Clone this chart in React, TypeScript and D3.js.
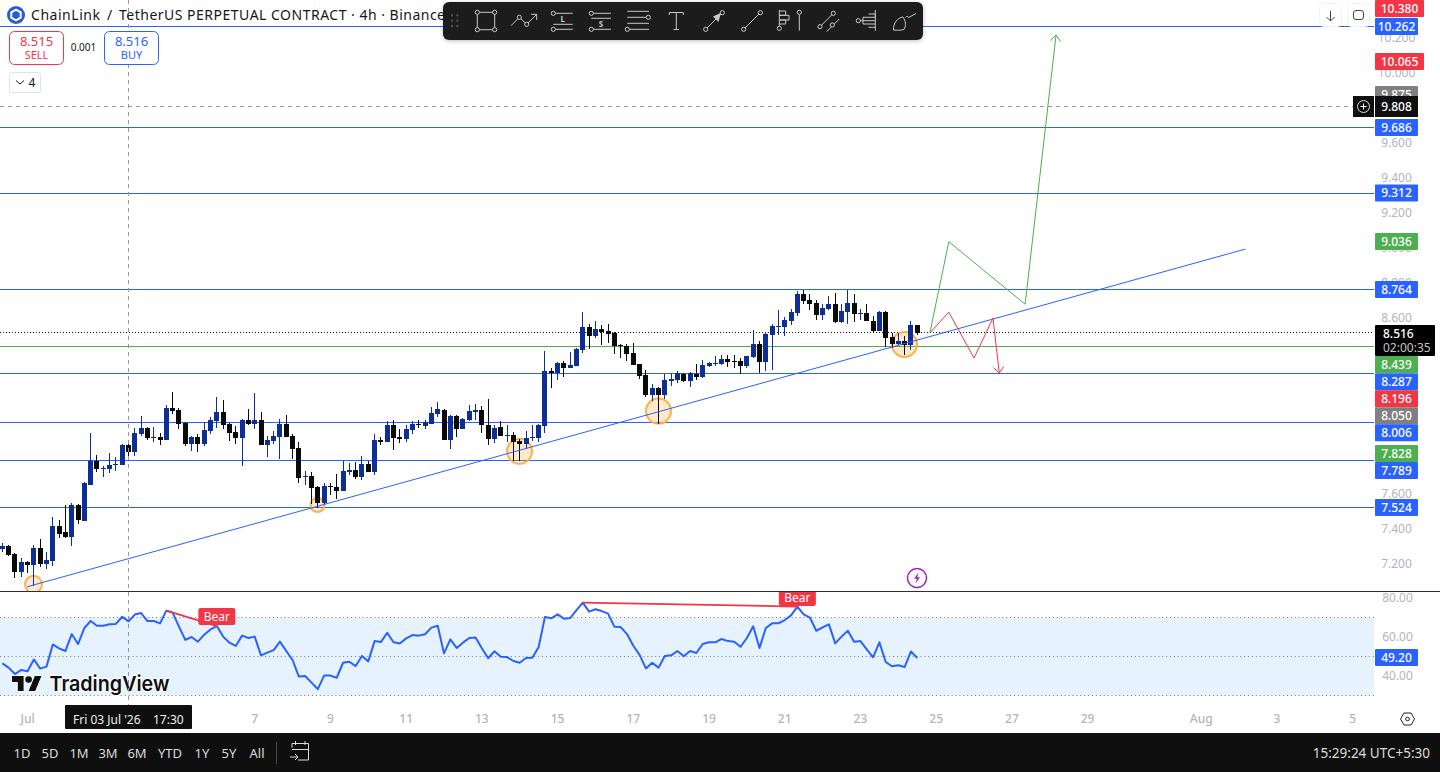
import { useEffect, useRef } from "react";
import * as d3 from "d3";

// 4h candles, oldest first
const opens = [
  7.287, 7.302, 7.256, 7.154, 7.211, 7.193, 7.29, 7.199, 7.216, 7.416, 7.382, 7.353, 7.536, 7.444, 7.65, 7.786, 7.741, 7.741, 7.764, 7.764,
  7.878, 7.838, 7.94, 7.974, 7.917, 7.923, 7.906, 8.088, 8.077, 8.003, 7.883, 7.923, 7.883, 7.957, 8.014, 8.066, 7.997, 7.952, 7.917, 8.02,
  7.997, 8.02, 7.878, 7.9, 7.923, 7.997, 7.929, 7.86, 7.695, 7.701, 7.638, 7.547, 7.644, 7.638, 7.615, 7.724, 7.735, 7.695, 7.769, 7.724,
  7.906, 7.895, 7.992, 7.923, 7.912, 7.963, 7.997, 7.986, 7.997, 8.054, 8.077, 7.906, 8.043, 7.969, 8.02, 8.066, 8.077, 7.992, 7.912, 7.98,
  7.929, 7.934, 7.9, 7.883, 7.917, 7.917, 7.986, 8.299, 8.288, 8.345, 8.316, 8.328, 8.419, 8.55, 8.499, 8.539, 8.527, 8.516, 8.447, 8.442,
  8.402, 8.339, 8.276, 8.163, 8.202, 8.163, 8.242, 8.248, 8.282, 8.242, 8.282, 8.265, 8.328, 8.339, 8.339, 8.368, 8.356, 8.356, 8.328, 8.379,
  8.453, 8.351, 8.504, 8.55, 8.55, 8.584, 8.63, 8.738, 8.704, 8.687, 8.619, 8.653, 8.681, 8.579, 8.636, 8.687, 8.624, 8.63, 8.584, 8.527,
  8.636, 8.493, 8.453, 8.47, 8.447, 8.562,
];
const highs = [
  7.317, 7.307, 7.262, 7.233, 7.216, 7.307, 7.342, 7.268, 7.467, 7.45, 7.536, 7.547, 7.541, 7.667, 7.946, 7.82, 7.758, 7.832, 7.809, 7.883,
  7.883, 7.974, 8.043, 7.98, 7.98, 7.946, 8.106, 8.18, 8.088, 8.009, 7.929, 7.94, 8.009, 8.037, 8.151, 8.134, 8.003, 7.986, 8.026, 8.083,
  8.174, 8.066, 7.929, 7.957, 8.026, 8.048, 7.94, 7.895, 7.729, 7.724, 7.644, 7.661, 7.661, 7.712, 7.786, 7.775, 7.781, 7.815, 7.786, 7.94,
  7.923, 8.014, 8.02, 7.969, 7.992, 8.014, 8.02, 8.02, 8.094, 8.123, 8.083, 8.048, 8.048, 8.031, 8.106, 8.111, 8.1, 8.14, 7.992, 8.014,
  7.992, 7.952, 7.912, 7.957, 7.992, 7.997, 8.413, 8.316, 8.351, 8.356, 8.408, 8.43, 8.636, 8.567, 8.584, 8.562, 8.567, 8.522, 8.453, 8.453,
  8.459, 8.339, 8.305, 8.225, 8.208, 8.282, 8.288, 8.299, 8.288, 8.294, 8.339, 8.362, 8.351, 8.385, 8.39, 8.39, 8.39, 8.373, 8.385, 8.533,
  8.47, 8.522, 8.567, 8.647, 8.607, 8.653, 8.755, 8.761, 8.738, 8.704, 8.681, 8.727, 8.744, 8.681, 8.761, 8.738, 8.653, 8.681, 8.613, 8.641,
  8.641, 8.516, 8.516, 8.499, 8.584, 8.562,
];
const lows = [
  7.27, 7.247, 7.119, 7.127, 7.148, 7.074, 7.182, 7.171, 7.188, 7.347, 7.347, 7.302, 7.427, 7.444, 7.648, 7.724, 7.695, 7.718, 7.729, 7.764,
  7.809, 7.815, 7.929, 7.906, 7.895, 7.878, 7.906, 8.054, 7.969, 7.872, 7.843, 7.838, 7.872, 7.94, 7.974, 7.969, 7.9, 7.883, 7.758, 7.992,
  7.969, 7.878, 7.809, 7.883, 7.798, 7.923, 7.798, 7.661, 7.65, 7.541, 7.518, 7.541, 7.592, 7.57, 7.615, 7.706, 7.684, 7.678, 7.724, 7.706,
  7.878, 7.895, 7.849, 7.889, 7.895, 7.94, 7.974, 7.969, 7.997, 8.037, 7.906, 7.855, 7.923, 7.969, 8.014, 8.02, 7.946, 7.878, 7.889, 7.929,
  7.895, 7.786, 7.786, 7.855, 7.9, 7.895, 7.946, 8.202, 8.248, 8.265, 8.316, 8.328, 8.402, 8.425, 8.487, 8.448, 8.459, 8.396, 8.373, 8.356,
  8.333, 8.254, 8.151, 8.128, 7.997, 8.14, 8.214, 8.231, 8.237, 8.208, 8.248, 8.259, 8.322, 8.328, 8.333, 8.322, 8.316, 8.282, 8.316, 8.373,
  8.288, 8.299, 8.305, 8.504, 8.499, 8.562, 8.613, 8.681, 8.647, 8.59, 8.59, 8.647, 8.573, 8.573, 8.567, 8.579, 8.59, 8.584, 8.522, 8.527,
  8.436, 8.43, 8.447, 8.39, 8.419, 8.505,
];
const closes = [
  7.302, 7.252, 7.155, 7.211, 7.193, 7.29, 7.199, 7.222, 7.416, 7.37, 7.353, 7.536, 7.45, 7.661, 7.786, 7.741, 7.746, 7.764, 7.769, 7.878,
  7.838, 7.946, 7.974, 7.917, 7.923, 7.906, 8.088, 8.071, 7.997, 7.883, 7.923, 7.883, 7.963, 8.02, 8.066, 7.992, 7.946, 7.917, 8.02, 7.997,
  8.02, 7.878, 7.906, 7.929, 7.997, 7.923, 7.855, 7.689, 7.701, 7.632, 7.547, 7.644, 7.638, 7.615, 7.729, 7.735, 7.695, 7.769, 7.724, 7.906,
  7.895, 7.992, 7.917, 7.912, 7.969, 7.997, 7.992, 8.009, 8.06, 8.083, 7.906, 8.043, 7.969, 8.026, 8.071, 8.077, 7.992, 7.912, 7.974, 7.929,
  7.934, 7.895, 7.883, 7.917, 7.923, 7.992, 8.299, 8.288, 8.345, 8.316, 8.333, 8.425, 8.55, 8.499, 8.539, 8.522, 8.51, 8.442, 8.442, 8.396,
  8.333, 8.271, 8.163, 8.202, 8.163, 8.248, 8.254, 8.288, 8.242, 8.288, 8.265, 8.333, 8.345, 8.345, 8.368, 8.351, 8.351, 8.328, 8.385, 8.453,
  8.351, 8.51, 8.556, 8.556, 8.59, 8.636, 8.738, 8.698, 8.681, 8.619, 8.658, 8.681, 8.579, 8.641, 8.687, 8.624, 8.63, 8.584, 8.527, 8.636,
  8.487, 8.453, 8.47, 8.447, 8.562, 8.516,
];
const rsiValues = [
  46.5, 44.3, 41, 43.1, 42.4, 48.5, 43.8, 44.8, 56.2, 54.2, 52.8, 61.5, 56.4, 64.6, 68.2, 65.8, 65.8, 66.5, 66.7, 70.4,
  68, 71.5, 72.3, 68.2, 68.2, 67, 73.5, 72.5, 65.3, 58.5, 60, 57.6, 61.2, 63.9, 65.6, 60.2, 57.1, 55.4, 60.7, 59.5,
  60.2, 50.6, 52, 53.3, 57.6, 52.8, 48.2, 39.7, 40, 36.6, 33.3, 40.2, 40.2, 39.1, 46.8, 47.3, 45.1, 50.3, 47.5, 57.9,
  57.4, 62.2, 57.3, 56.7, 59.3, 61, 60.7, 61.4, 64.8, 65.8, 51.6, 58.8, 54.4, 57.1, 59.5, 59.7, 54.2, 49.1, 52.7, 49.9,
  49.7, 47.7, 46.8, 49.2, 49.4, 54.9, 70.3, 69.6, 71.6, 69.4, 69.7, 73.8, 77.6, 73, 74.2, 73.3, 72, 65.3, 65.1, 61.5,
  55.5, 50.8, 43.9, 46.8, 44.3, 50.3, 50.6, 52.8, 50.1, 52.8, 51.8, 56.4, 57.3, 57.3, 59, 57.9, 57.6, 55, 59.5, 65.5,
  54.4, 64.6, 67, 67, 68.7, 71.1, 75.6, 71.6, 69.9, 63.2, 64.9, 66.5, 56.7, 60.2, 63.2, 57.6, 57.9, 53.7, 49.6, 57.3,
  47.2, 45, 45.5, 44.6, 52.6, 49.2,
];

const blueLevels = [10.262, 9.686, 9.312, 8.764, 8.287, 8.006, 7.789, 7.524];
const greenLevel = 8.439;
const lastPrice = 8.516;
const crosshairPrice = 9.808;
const crosshairIndex = 20;

const priceTicks = [10.2, 10, 9.8, 9.6, 9.4, 9.2, 9, 8.8, 8.6, 8.4, 8.2, 8, 7.8, 7.6, 7.4, 7.2];
const rsiTicks = [80, 60, 40];
const rsiBands = [70, 50, 30];

const dayLabels = ["Jul", "7", "9", "11", "13", "15", "17", "19", "21", "23", "25", "27", "29", "Aug", "3", "5"];
const dayOffsets = [0, 6, 8, 10, 12, 14, 16, 18, 20, 22, 24, 26, 28, 31, 33, 35]; // days after 1 Jul
const rangeButtons = ["1D", "5D", "1M", "3M", "6M", "YTD", "1Y", "5Y", "All"];

// price tags on the axis
const tagValues = [10.38, 10.262, 10.065, 9.875, 9.686, 9.312, 9.036, 8.764, 8.439, 8.287, 8.196, 8.05, 8.006, 7.828, 7.789, 7.524];
const tagKinds = ["r", "b", "r", "k", "b", "b", "g", "b", "g", "b", "r", "k", "b", "g", "b", "b"];

// drawn forecast paths: candle index / price
const trendIdx = [3.9, 197];
const trendPrice = [7.07, 8.994];
const greenPathIdx = [147, 150, 162.1, 167];
const greenPathPrice = [8.516, 9.036, 8.68, 10.214];
const redPathIdx = [147, 150, 154, 157, 158];
const redPathPrice = [8.516, 8.635, 8.373, 8.601, 8.288];

const touchIdx = [5, 50, 82, 104, 143];
const touchPrice = [7.084, 7.536, 7.842, 8.071, 8.451];

const divergenceIdx = [[26, 34], [92, 126]];
const divergenceRsi = [[73.5, 65.6], [77.6, 75.6]];

const WIDTH = 1440;
const HEIGHT = 772;
const PLOT_R = 1374;
const PANE_Y = 591;
const AXIS_Y = 704;
const FOOT_Y = 733;
const FONT = "'Noto Sans', sans-serif";
const BLUE = "#2962ff";
const GREEN = "#4caf50";
const RED = "#f23645";
const CANDLE_UP = "#0d2f95";
const CANDLE_DOWN = "#0a0a0a";
const BAND_FILL = "#e6f3fe";
const TAG_FILL: Record<string, string> = { r: RED, b: BLUE, g: GREEN, k: "#808080" };
const TAG_CENTERS = [8.5, 26.5, 61.5, 94.5, 127.5, 193, 241.5, 289.5, 364.5, 381.7, 398.7, 415.7, 432.7, 453.5, 470.5, 507.5];
const TOUCH_RADII = [8.5, 7, 12.5, 12.5, 12.5];

export default function App() {
  const svgRef = useRef<SVGSVGElement | null>(null);

  useEffect(() => {
    const svg = d3.select(svgRef.current);
    svg.selectAll("*").remove();

    const x = d3.scaleLinear().domain([0, 146]).range([2.3, 2.3 + 6.31 * 146]);
    const y = d3.scaleLinear().domain([10, 7.2]).range([72.5, 564]);
    const rsiY = d3.scaleLinear().domain([80, 40]).range([598, 676]);
    const dayX = (d: number) => x(4 + d * 6);
    const snap = (v: number) => Math.floor(v) + 0.5;

    const defs = svg.append("defs");
    defs.append("clipPath").attr("id", "main-clip").append("rect").attr("width", PLOT_R).attr("height", PANE_Y);
    defs.append("clipPath").attr("id", "rsi-clip").append("rect")
      .attr("y", PANE_Y + 1).attr("width", PLOT_R).attr("height", AXIS_Y - PANE_Y - 1);
    const shadow = defs.append("filter").attr("id", "bar-shadow")
      .attr("x", "-5%").attr("y", "-30%").attr("width", "110%").attr("height", "170%");
    shadow.append("feDropShadow").attr("dx", 0).attr("dy", 1).attr("stdDeviation", 2).attr("flood-opacity", 0.25);

    svg.append("rect").attr("width", WIDTH).attr("height", HEIGHT).attr("fill", "#fff");

    const main = svg.append("g").attr("clip-path", "url(#main-clip)");
    const rsi = svg.append("g").attr("clip-path", "url(#rsi-clip)");

    // horizontal levels
    main.selectAll(".level").data(blueLevels).enter().append("line")
      .attr("x1", 0).attr("x2", PLOT_R)
      .attr("y1", d => snap(y(d))).attr("y2", d => snap(y(d)))
      .attr("stroke", BLUE).attr("stroke-width", 1);
    main.append("line").attr("x1", 0).attr("x2", PLOT_R)
      .attr("y1", snap(y(greenLevel))).attr("y2", snap(y(greenLevel)))
      .attr("stroke", GREEN).attr("stroke-width", 1);
    main.append("line").attr("x1", 0).attr("x2", PLOT_R)
      .attr("y1", snap(y(lastPrice))).attr("y2", snap(y(lastPrice)))
      .attr("stroke", "#111").attr("stroke-dasharray", "1 2");

    // orange touch circles go under the candles
    main.selectAll(".touch").data(touchIdx).enter().append("circle")
      .attr("cx", d => snap(x(d)))
      .attr("cy", (_, i) => y(touchPrice[i]))
      .attr("r", (_, i) => TOUCH_RADII[i])
      .attr("fill", "#ff9800").attr("fill-opacity", 0.2)
      .attr("stroke", "#ffb04a").attr("stroke-width", 2);

    // candles
    const candle = main.selectAll(".candle").data(opens).enter().append("g");
    candle.append("rect")
      .attr("x", (_, i) => Math.floor(x(i)))
      .attr("y", (_, i) => Math.round(y(highs[i])))
      .attr("width", 1)
      .attr("height", (_, i) => Math.max(1, Math.round(y(lows[i])) - Math.round(y(highs[i]))))
      .attr("fill", (d, i) => (closes[i] >= d ? CANDLE_UP : CANDLE_DOWN));
    candle.append("rect")
      .attr("x", (_, i) => Math.floor(x(i)) - 2)
      .attr("y", (d, i) => Math.round(y(Math.max(d, closes[i]))))
      .attr("width", 5)
      .attr("height", (d, i) => Math.max(1, Math.round(y(Math.min(d, closes[i]))) - Math.round(y(Math.max(d, closes[i])))))
      .attr("fill", (d, i) => (closes[i] >= d ? CANDLE_UP : CANDLE_DOWN));

    // trend line + forecast paths
    const pathLine = d3.line<number>().x(d => x(d));
    main.append("line")
      .attr("x1", x(trendIdx[0])).attr("y1", y(trendPrice[0]))
      .attr("x2", x(trendIdx[1])).attr("y2", y(trendPrice[1]))
      .attr("stroke", BLUE).attr("stroke-width", 1);
    main.append("path")
      .attr("d", pathLine.y((_, i) => y(greenPathPrice[i]))(greenPathIdx))
      .attr("fill", "none").attr("stroke", GREEN).attr("stroke-width", 1);
    main.append("path")
      .attr("d", pathLine.y((_, i) => y(redPathPrice[i]))(redPathIdx))
      .attr("fill", "none").attr("stroke", RED).attr("stroke-width", 1);

    // arrow heads
    const head = (idx: number[], prices: number[], color: string) => {
      const n = idx.length - 1;
      const px = x(idx[n]);
      const py = y(prices[n]);
      const ang = Math.atan2(py - y(prices[n - 1]), px - x(idx[n - 1]));
      const wing = (d: number) => `${px - 8 * Math.cos(ang + d)},${py - 8 * Math.sin(ang + d)}`;
      main.append("path").attr("d", `M${wing(0.7)}L${px},${py}L${wing(-0.7)}`)
        .attr("fill", "none").attr("stroke", color).attr("stroke-width", 1);
    };
    head(greenPathIdx, greenPathPrice, GREEN);
    head(redPathIdx, redPathPrice, RED);

    // lightning badge
    const bolt = main.append("g").attr("transform", "translate(917,578)");
    bolt.append("circle").attr("r", 9.5).attr("fill", "#fff").attr("stroke", "#9c27b0").attr("stroke-width", 1.5);
    bolt.append("path").attr("d", "M1.5,-5.5L-3,0.8H-0.2L-1.5,5.5L3,-0.8H0.2Z").attr("fill", "#9c27b0");

    // RSI pane
    rsi.append("rect")
      .attr("x", 0).attr("y", rsiY(70)).attr("width", PLOT_R).attr("height", rsiY(30) - rsiY(70))
      .attr("fill", BAND_FILL);
    rsi.selectAll(".band").data(rsiBands).enter().append("line")
      .attr("x1", 0).attr("x2", PLOT_R)
      .attr("y1", d => snap(rsiY(d))).attr("y2", d => snap(rsiY(d)))
      .attr("stroke", "#787b86").attr("stroke-dasharray", "1 2.9");
    rsi.append("path")
      .attr("d", d3.line<number>().x((_, i) => x(i)).y(d => rsiY(d))(rsiValues))
      .attr("fill", "none").attr("stroke", BLUE).attr("stroke-width", 2).attr("stroke-linejoin", "round");

    divergenceIdx.forEach((pair, k) => {
      rsi.append("line")
        .attr("x1", x(pair[0])).attr("y1", rsiY(divergenceRsi[k][0]))
        .attr("x2", x(pair[1])).attr("y2", rsiY(divergenceRsi[k][1]))
        .attr("stroke", RED).attr("stroke-width", 1.7);
      const lx = x(pair[1]);
      const ly = rsiY(divergenceRsi[k][1]);
      const top = k === 0 ? ly - 18 : ly - 17.5;
      rsi.append("rect").attr("x", lx - 18.5).attr("y", top).attr("width", 37).attr("height", 17).attr("rx", 2).attr("fill", RED);
      rsi.append("text").attr("x", lx).attr("y", top + 12.5).attr("text-anchor", "middle")
        .attr("font-family", FONT).attr("font-size", 12).attr("fill", "#fff").text("Bear");
    });

    // TradingView watermark
    const wm = svg.append("g");
    wm.append("path").attr("transform", "translate(12,672.8) scale(0.83)")
      .attr("d", "M14 22H7V11H0V4h14v18zM28 22h-8l7.5-18h8L28 22z").attr("fill", "#0f0f0f")
      .attr("stroke", "#fff").attr("stroke-width", 1.5).attr("paint-order", "stroke");
    wm.append("circle").attr("cx", 28.6).attr("cy", 679.5).attr("r", 3.3).attr("fill", "#0f0f0f");
    wm.append("text").attr("x", 49.5).attr("y", 691)
      .attr("font-family", "Inter, sans-serif").attr("font-weight", 600).attr("font-size", 20.5)
      .attr("fill", "#0f0f0f").attr("stroke", "#fff").attr("stroke-width", 2).attr("paint-order", "stroke")
      .attr("textLength", 120).attr("lengthAdjust", "spacingAndGlyphs").text("TradingView");

    // pane divider and crosshair
    svg.append("line").attr("x1", 0).attr("x2", WIDTH).attr("y1", PANE_Y + 0.5).attr("y2", PANE_Y + 0.5).attr("stroke", "#2e2e2e");
    const crossX = snap(x(crosshairIndex));
    svg.append("line").attr("x1", crossX).attr("x2", crossX).attr("y1", 0).attr("y2", AXIS_Y + 1)
      .attr("stroke", "#9598a1").attr("stroke-dasharray", "4 4");
    svg.append("line").attr("x1", 0).attr("x2", 1353).attr("y1", snap(y(crosshairPrice))).attr("y2", snap(y(crosshairPrice)))
      .attr("stroke", "#9598a1").attr("stroke-dasharray", "4 4");

    // price axis
    const label = (sel: d3.Selection<any, any, any, any>, tx: number, ty: number, text: string, fill: string, size = 12, anchor = "middle", weight = 400) =>
      sel.append("text").attr("x", tx).attr("y", ty).attr("dy", "0.35em").attr("text-anchor", anchor)
        .attr("font-family", FONT).attr("font-size", size).attr("font-weight", weight).attr("fill", fill).text(text);

    priceTicks.forEach(t => label(svg, 1396.5, y(t), d3.format(".3f")(t), "#b2b5be"));
    rsiTicks.forEach(t => label(svg, 1397.5, rsiY(t), d3.format(".2f")(t), "#b2b5be"));

    tagValues.forEach((v, i) => {
      const w = v >= 10.3 || v === 10.065 ? 49 : 43;
      const cy = TAG_CENTERS[i];
      svg.append("rect").attr("x", 1375).attr("y", cy - 8.5).attr("width", w).attr("height", 17).attr("rx", 1)
        .attr("fill", TAG_FILL[tagKinds[i]]);
      label(svg, 1375 + w / 2, cy, d3.format(".3f")(v), "#fff", 12, "middle", 500);
    });

    svg.append("rect").attr("x", 1375).attr("y", 325).attr("width", 60).attr("height", 31).attr("rx", 1).attr("fill", "#000");
    label(svg, 1383, 333.5, d3.format(".3f")(lastPrice), "#fff", 12, "start", 500);
    label(svg, 1383, 347.5, "02:00:35", "#c4c4c4", 12, "start");

    svg.append("rect").attr("x", 1375).attr("y", 96).attr("width", 43).attr("height", 21).attr("fill", "#0f0f0f");
    label(svg, 1396.5, 106.5, d3.format(".3f")(crosshairPrice), "#fff", 12, "middle", 500);
    svg.append("rect").attr("x", 1353).attr("y", 96).attr("width", 21).attr("height", 21).attr("fill", "#0f0f0f");
    svg.append("circle").attr("cx", 1363.5).attr("cy", 106.5).attr("r", 6).attr("fill", "none").attr("stroke", "#ddd");
    svg.append("path").attr("d", "M1360.5,106.5H1366.5M1363.5,103.5V109.5").attr("stroke", "#fff");

    svg.append("rect").attr("x", 1375).attr("y", 649).attr("width", 43).attr("height", 17).attr("rx", 1).attr("fill", BLUE);
    label(svg, 1396.5, 657.5, d3.format(".2f")(rsiValues[rsiValues.length - 1]), "#fff", 12, "middle", 500);

    // time axis
    dayLabels.forEach((t, i) => label(svg, dayX(dayOffsets[i]), 718.5, t, "#b2b5be", 12, "middle", 500));
    svg.append("rect").attr("x", 65).attr("y", 705).attr("width", 127).attr("height", 24).attr("rx", 1).attr("fill", "#0f0f0f");
    label(svg, 73, 719.5, "Fri 03 Jul '26", "#f0f0f0", 12, "start");
    label(svg, 153, 719.5, "17:30", "#f0f0f0", 12, "start");
    const gear = svg.append("g").attr("transform", "translate(1407.5,719)");
    gear.append("path").attr("d", "M-7,0L-3.5,-6H3.5L7,0L3.5,6H-3.5Z").attr("fill", "none").attr("stroke", "#222");
    gear.append("circle").attr("r", 1.8).attr("fill", "none").attr("stroke", "#222");

    // footer
    svg.append("rect").attr("y", FOOT_Y).attr("width", WIDTH).attr("height", HEIGHT - FOOT_Y).attr("fill", "#0f0f0f");
    const rangeX = [22, 50, 79, 108, 137, 170, 202, 229, 257];
    rangeButtons.forEach((t, i) => label(svg, rangeX[i], 753, t, "#dbdbdb", 13));
    svg.append("line").attr("x1", 276.5).attr("x2", 276.5).attr("y1", 742).attr("y2", 764).attr("stroke", "#4a4a4a");
    svg.append("path")
      .attr("d", "M292,747.5V743.5H308.5V760H298M292,749.5H308.5M295.5,741V745M305,741V745M290,757H298M295,754L298,757L295,760")
      .attr("fill", "none").attr("stroke", "#dbdbdb");
    label(svg, 1430, 753, "15:29:24 UTC+5:30", "#dbdbdb", 13.5, "end");

    // header legend
    svg.append("circle").attr("cx", 16).attr("cy", 15).attr("r", 9).attr("fill", "#2a5ada");
    svg.append("path").attr("d", "M16,9.6L20.7,12.3V17.7L16,20.4L11.3,17.7V12.3Z").attr("fill", "none").attr("stroke", "#fff").attr("stroke-width", 2);
    const title = (tx: number, text: string, len?: number) => {
      const t = svg.append("text").attr("x", tx).attr("y", 15).attr("dy", "0.35em")
        .attr("font-family", FONT).attr("font-size", 14).attr("fill", "#131722").text(text);
      if (len) t.attr("textLength", len);
    };
    title(31, "ChainLink", 69);
    title(107, "/");
    title(119, "TetherUS PERPETUAL CONTRACT · 4h · Binance", 326);

    const quote = (bx: number, color: string, price: string, side: string) => {
      svg.append("rect").attr("x", bx).attr("y", 31.5).attr("width", 54).attr("height", 33).attr("rx", 5)
        .attr("fill", "#fff").attr("stroke", color);
      label(svg, bx + 27, 41, price, color, 13);
      label(svg, bx + 27, 55, side, color, 11);
    };
    quote(9.5, RED, "8.515", "SELL");
    quote(104.5, BLUE, "8.516", "BUY");
    label(svg, 83.5, 47.5, "0.001", "#131722", 10);
    svg.append("rect").attr("x", 9.5).attr("y", 72.5).attr("width", 31).attr("height", 20).attr("rx", 2).attr("fill", "#fff").attr("stroke", "#e0e3eb");
    svg.append("path").attr("d", "M16,80.5L20,84L24,80.5").attr("fill", "none").attr("stroke", "#131722");
    label(svg, 32, 82.5, "4", "#131722", 12);

    // corner buttons
    [1319, 1347].forEach(bx => {
      svg.append("rect").attr("x", bx + 0.5).attr("y", 3.5).attr("width", 22).attr("height", 23).attr("rx", 4).attr("fill", "#fff").attr("stroke", "#f0f3fa");
    });
    svg.append("path").attr("d", "M1330.5,11V21M1326.5,17L1330.5,21L1334.5,17").attr("fill", "none").attr("stroke", "#444");
    svg.append("rect").attr("x", 1353.5).attr("y", 10.5).attr("width", 10).attr("height", 9).attr("rx", 2.5).attr("fill", "none").attr("stroke", "#444");

    // drawing toolbar
    const bar = svg.append("g");
    bar.append("rect").attr("x", 443).attr("y", 2).attr("width", 480).attr("height", 38).attr("rx", 6)
      .attr("fill", "#1e1e1e").attr("filter", "url(#bar-shadow)");
    [452, 457.3].forEach(gx => [15.3, 20.7, 26].forEach(gy => {
      bar.append("rect").attr("x", gx - 1).attr("y", gy - 1).attr("width", 2).attr("height", 2).attr("fill", "#555");
    }));
    const stroke = (d: string) => bar.append("path").attr("d", d).attr("fill", "none").attr("stroke", "#c8c8c8").attr("stroke-width", 1);
    const dot = (cx: number, cy: number) => bar.append("circle").attr("cx", cx).attr("cy", cy).attr("r", 2.1)
      .attr("fill", "#1e1e1e").attr("stroke", "#c8c8c8");

    stroke("M477.3,12.3H494.7V29.7H477.3Z");
    [[477.3, 12.3], [494.7, 12.3], [477.3, 29.7], [494.7, 29.7]].forEach(p => dot(p[0], p[1]));
    stroke("M511,25.7L519.3,17.3L526.7,24.3L536.7,14.3M531,14.3H536.7V20");
    dot(519.3, 17.3); dot(526.7, 24.3);
    stroke("M553.3,13.3H572.7M553.3,24.3H572.7M553.3,29.3H572.7");
    dot(553.3, 13.3); dot(553.3, 29.3);
    label(bar, 562.7, 19.3, "L", "#c8c8c8", 8, "middle", 700);
    stroke("M591.3,13.3H611M591.3,18.3H611M591.3,29.3H611");
    dot(591.3, 13.3); dot(591.3, 29.3);
    label(bar, 601, 24, "S", "#c8c8c8", 8, "middle", 700);
    stroke("M627.3,11.3H649M627.3,17.3H649M627.3,23.3H649M627.3,29.3H649");
    dot(648.3, 17.3); dot(627.3, 29.3);
    stroke("M669.3,15V12.5H683.3V15M676.3,12.5V29.5M673.5,29.5H679");
    stroke("M705.7,29.3L722.3,12.7");
    bar.append("path").attr("d", "M721,12.7L713,16.5L718.5,22Z").attr("fill", "#c8c8c8");
    dot(705.7, 29.3); dot(722.3, 12.7);
    stroke("M743.7,29.3L760.3,12.7");
    dot(743.7, 29.3); dot(760.3, 12.7);
    stroke("M779.3,10V28.3M779.3,11H785.7V15.3H779.3M779.3,15.3H789V20H779.3M779.3,20H785.7V24H779.3");
    dot(779.3, 28.3);
    stroke("M799.3,14.5V30.5");
    dot(799.3, 12.3);
    stroke("M820,26.7L833.3,13.3M826.7,31.7L839.3,19");
    dot(820, 26.7); dot(833.3, 13.3); dot(832.3, 25);
    stroke("M875.3,10V30.7M858.3,20.7H875.3M868.5,14H875.3V17.3H863V24H875.3M868.5,27.3H875.3");
    dot(858.3, 20.7);
    stroke("M893.5,30C893,23 898,17.5 903,17C905.5,21 906.5,25 904,29.5C900,30.5 897,30.3 893.5,30ZM905.5,17.5C906.5,16 908,16 908.5,17.5L916,13.5");
  }, []);

  return (
    <svg
      ref={svgRef}
      width={WIDTH}
      height={HEIGHT}
      style={{ position: "absolute", left: 0, top: 0, display: "block" }}
    />
  );
}
